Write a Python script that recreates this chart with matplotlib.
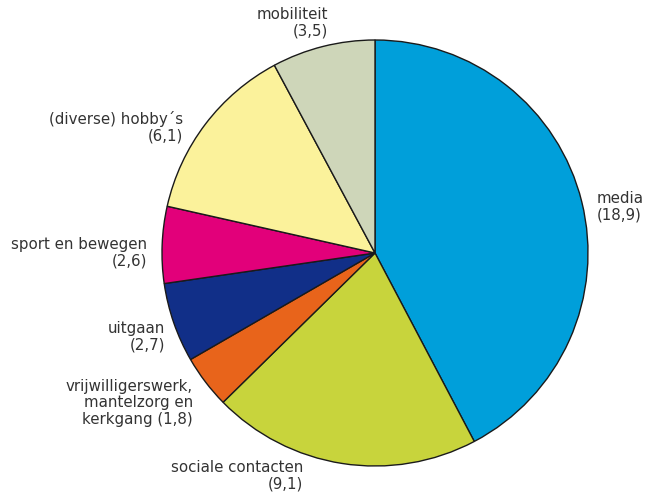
import matplotlib.pyplot as plt

categories = ['media', 'sociale contacten', 'vrijwilligerswerk', 'uitgaan',
              'sport en bewegen', '(diverse) hobby\u00b4s', 'mobiliteit']
values = [18.9, 9.1, 1.8, 2.7, 2.6, 6.1, 3.5]
colors = ['#009fda', '#c8d43c', '#e8641b', '#112f88', '#e2007a', '#fbf29b', '#ced6b9']

# label text, anchor (pixel coords), alignment
labels = [
    ('media\n(18,9)', 597, 207, 'left'),
    ('sociale contacten\n(9,1)', 303, 476, 'right'),
    ('vrijwilligerswerk,\nmantelzorg en\nkerkgang (1,8)', 193, 403, 'right'),
    ('uitgaan\n(2,7)', 165, 337, 'right'),
    ('sport en bewegen\n(2,6)', 147, 253, 'right'),
    ('(diverse) hobby\u00b4s\n(6,1)', 183, 127, 'right'),
    ('mobiliteit\n(3,5)', 328, 23, 'right'),
]

W, H = 646, 497
fig = plt.figure(figsize=(W / 100, H / 100), dpi=100)
ax = fig.add_axes([0, 0, 1, 1])

ax.pie(values, colors=colors, startangle=90, counterclock=False,
       center=(375, H - 253), radius=213, frame=True,
       wedgeprops=dict(edgecolor='#1a1a1a', linewidth=1))
ax.set_xlim(0, W)
ax.set_ylim(0, H)
ax.set_aspect('equal')
ax.axis('off')

for text, x, y, ha in labels:
    ax.text(x, H - y, text, ha=ha, va='center', fontsize=10.8,
            color='#333333', multialignment=ha, linespacing=1.15)

fig.savefig('out.png', dpi=100)
